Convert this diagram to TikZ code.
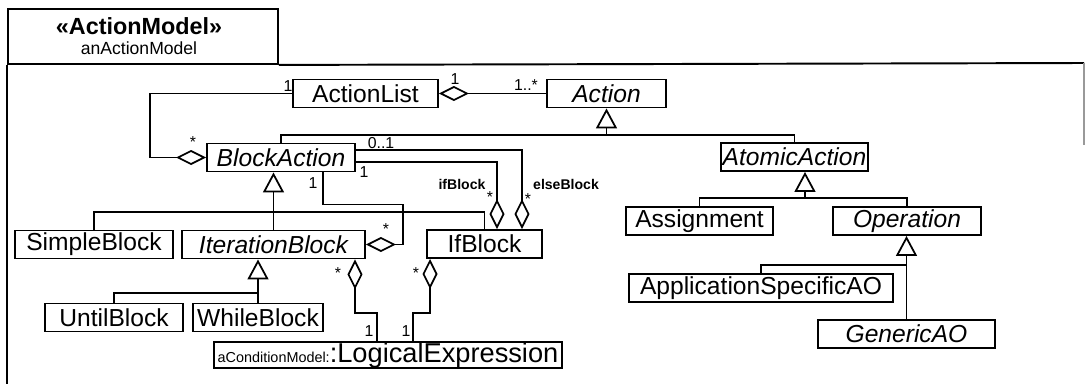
\documentclass[tikz,border=0pt]{standalone}
\usepackage{fontspec}
\setmainfont{Liberation Sans}
\usetikzlibrary{arrows.meta}

\begin{document}
\begin{tikzpicture}[x=0.02cm,y=-0.02cm,line width=1pt,
  cls/.style={draw,line width=1.1pt,inner sep=0pt,minimum height=0.56cm,font=\fontsize{14}{16}\selectfont},
  abst/.style={cls,font=\fontsize{14}{16}\selectfont\itshape},
  gen/.style={-{Triangle[open,length=0.4cm,width=0.42cm]}},
  agg/.style={-{Diamond[open,length=0.6cm,width=0.3cm]}},
  mult/.style={font=\fontsize{9}{10}\selectfont,inner sep=0pt},
  role/.style={font=\fontsize{8}{9}\selectfont\bfseries,inner sep=0pt}]
 \useasboundingbox (0,0) rectangle (1085,383);
 % package frame
 \node[draw,line width=1.1pt,minimum width=5.4cm,minimum height=1.1cm,inner sep=0pt,anchor=north west] (tab) at (7,8) {};
 \node[font=\fontsize{13.3}{15}\selectfont\bfseries] (stereo) at (139,26) {«ActionModel»};
 \node[font=\fontsize{10}{12}\selectfont] (pkgname) at (139,48) {anActionModel};
 \draw[line width=1.1pt] (tab.south west) -- (7,395);
 \draw[line width=1.1pt] (tab.south east) -- (1084,63);
 \draw[black!40,line width=.8pt] (1084,63) -- (1084,145);
 % classes
 \foreach \nm/\x/\y/\w/\t in {actlist/365.5/93.5/2.9/ActionList, simple/94/244.5/3.16/SimpleBlock,
   ifblk/484.5/244/2.3/IfBlock, until/114/317.5/2.76/UntilBlock, while/258/317.5/2.6/WhileBlock,
   assign/699.5/221/2.94/Assignment, appspec/761/288/5.28/ApplicationSpecificAO}
   \node[cls,minimum width=\w cm] (\nm) at (\x,\y) {\t};
 \foreach \nm/\x/\y/\w/\t in {action/606.5/93.5/2.38/Action, blockact/281/157.5/2.96/BlockAction,
   atomact/794.5/157/2.94/AtomicAction, iter/273.5/244.5/3.66/IterationBlock,
   oper/907/221/2.96/Operation, generic/906.5/334/3.54/GenericAO}
   \node[abst,minimum width=\w cm] (\nm) at (\x,\y) {\t};
 \node[cls,minimum width=6.96cm,minimum height=0.48cm] (logexpr) at (388,355)
   {{\fontsize{8.2}{9}\selectfont aConditionModel:}{\fontsize{15.5}{16}\selectfont :LogicalExpression}};
 % generalisations
 \draw (blockact.north) |- (action.south |- 0,135) -| (atomact.north);
 \draw[gen] (action.south |- 0,135) -- (action.south);
 \draw (simple.north) |- (iter.north |- 0,212) -| (ifblk.north);
 \draw[gen] (iter.north) -- (iter.north |- blockact.south);
 \draw (until.north) |- (while.north |- 0,293);
 \draw[gen] (while.north) -- (while.north |- iter.south);
 \coordinate (atTip) at ([xshift=0.21cm]atomact.south);
 \draw (assign.north) |- (oper.north |- 0,198) -- (oper.north);
 \draw[gen] (atTip |- 0,198) -- (atTip);
 \draw (appspec.north) |- (generic.north |- 0,265);
 \draw[gen] (generic.north) -- (generic.north |- oper.south);
 % aggregations
 \draw[agg] (action.west) -- (actlist.east);
 \draw[agg] (actlist.west) -- ++(-142,0) |- (blockact.west);
 \draw[agg] ([xshift=0.84cm]blockact.south) -- ++(0,32) -| ([xshift=0.74cm]iter.east) -- (iter.east);
 \draw[agg] ([yshift=0.15cm]blockact.east) -| ([xshift=0.75cm]ifblk.north);
 \draw[agg] ([yshift=-0.09cm]blockact.east) -| ([xshift=0.25cm]ifblk.north);
 \draw[agg] ([xshift=-0.22cm]logexpr.north) -- ++(0,-28) -| ([xshift=1.63cm]iter.south);
 \draw[agg] ([xshift=0.5cm]logexpr.north) -- ++(0,-28) -| ([xshift=-1.09cm]ifblk.south);
 % multiplicities and roles
 \foreach \nm/\x/\y/\t in {mAL1/455/79/1, mAc/526/85/1..*, mAL2/288/86/1, mBA1/193/142/*,
   mBA2/381/143/0..1, mBA3/364/172/1, mBA4/313/183/1, mIf/490/197/*, mElse/528/199/*,
   mIt/386/229/*, mIt2/338/273/*, mIf2/416/273/*, mLE1/369/331/1, mLE2/406/331/1}
   \node[mult] (\nm) at (\x,\y) {\t};
 \node[role] (rIf) at (462,184) {ifBlock};
 \node[role] (rElse) at (566,184) {elseBlock};
\end{tikzpicture}
\end{document}
